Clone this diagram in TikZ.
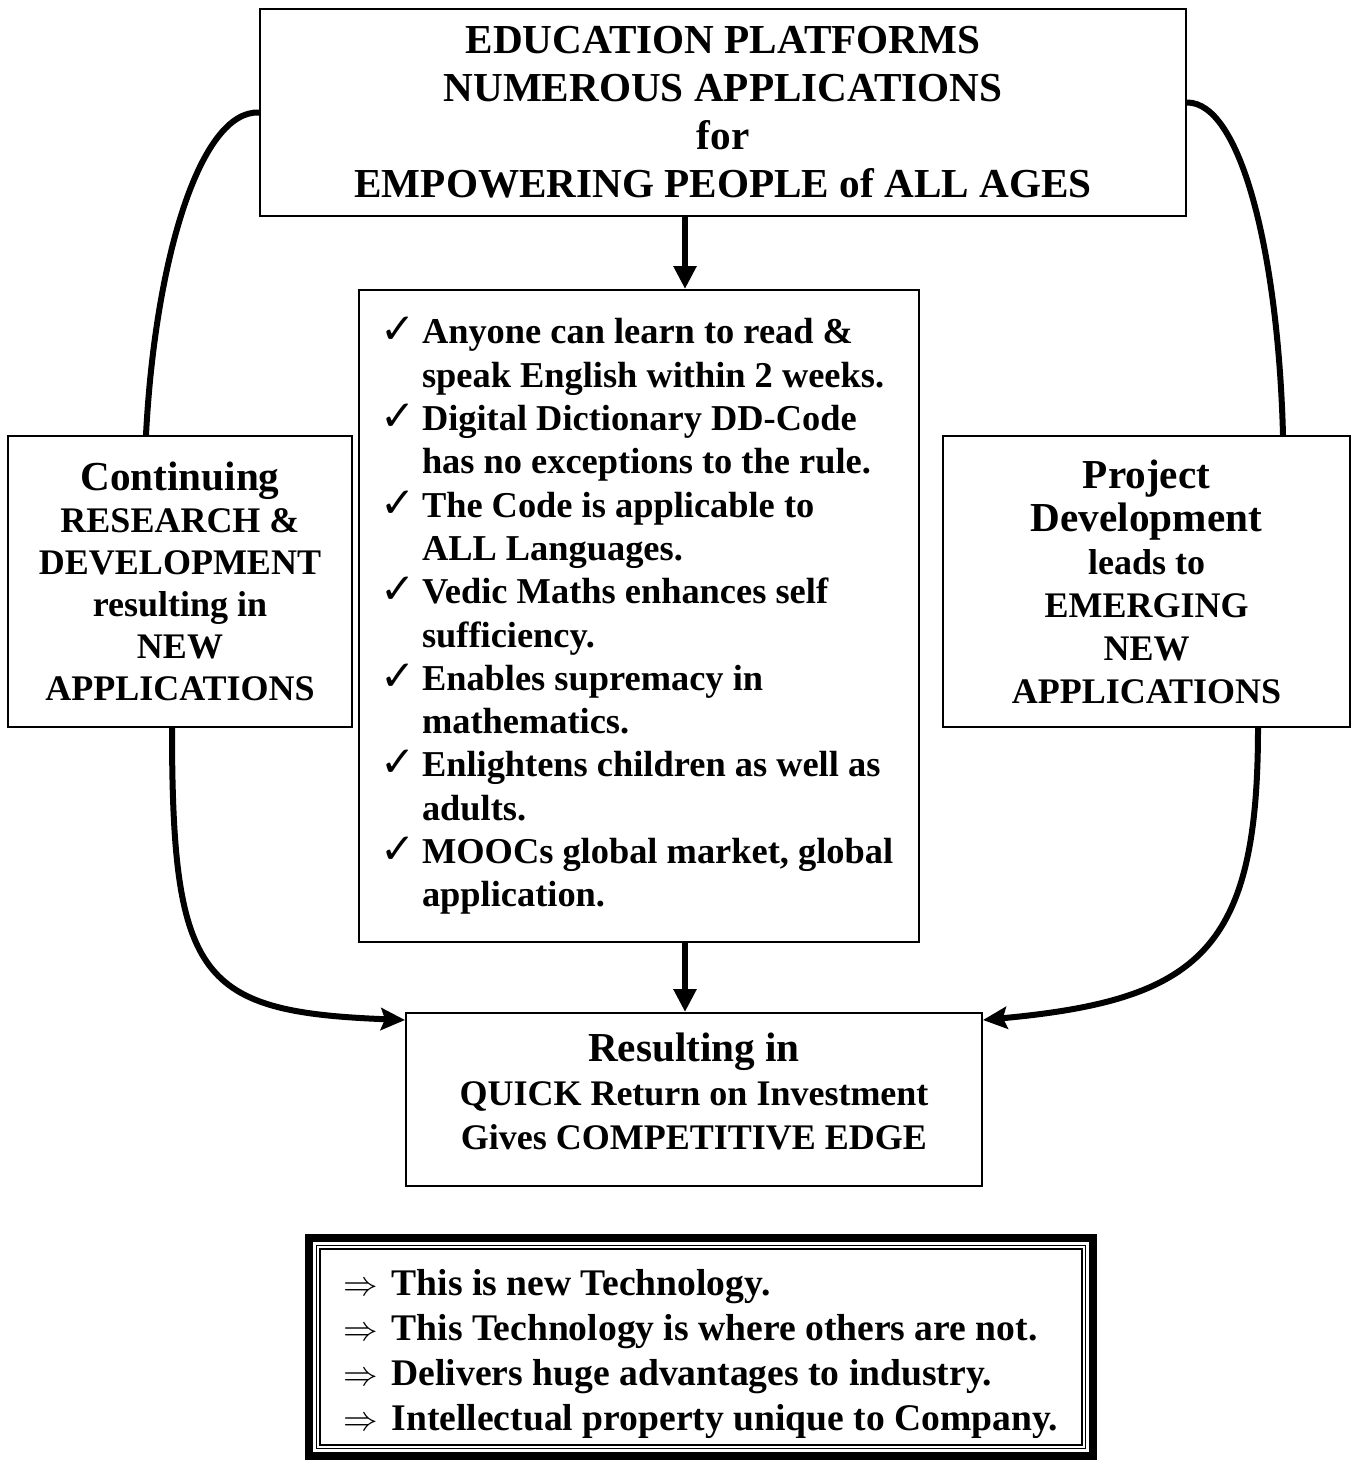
\documentclass[tikz,border=0pt]{standalone}
\usepackage{fontspec}
\setmainfont{Liberation Serif}
\newfontfamily\tickfont{DejaVu Sans}
\usetikzlibrary{arrows.meta}

\newcommand{\tickmark}{\makebox[21pt][l]{\tickfont\fontsize{21}{21}\selectfont ✓}}
\newcommand{\tickgap}{\hspace*{21pt}}
\newcommand{\impl}{\makebox[24pt][l]{$\Rightarrow$}}

\begin{document}
\begin{tikzpicture}[x=0.5pt, y=-0.5pt,
    box/.style={draw, line width=1pt, align=center, inner sep=0pt},
    sweep/.style={line width=3pt},
    feed/.style={line width=3pt, -{Stealth[length=12pt, width=11pt, inset=2pt]}},
    down/.style={line width=3pt, -{Triangle[length=11.5pt, width=11pt]}}]

\useasboundingbox (0,0) rectangle (1355,1461);

% Main statement
\node[box, minimum width=463pt, minimum height=103.5pt,
      font=\bfseries\fontsize{20.6}{24}\selectfont] (platform) at (723,112.5)
    {EDUCATION PLATFORMS\\NUMEROUS APPLICATIONS\\for\\EMPOWERING PEOPLE of ALL AGES};

% Benefit list ------------------------------
\node[box, minimum width=280pt, minimum height=326pt, text width=259pt, align=flush left,
      inner xsep=10.5pt, font=\bfseries\fontsize{18.2}{21.65}\selectfont] (benefits) at (639,616)
    {\tickmark Anyone can learn to read \&\\
     \tickgap speak English within 2 weeks.\\
     \tickmark Digital Dictionary DD-Code\\
     \tickgap has no exceptions to the rule.\\
     \tickmark The Code is applicable to\\
     \tickgap ALL Languages.\\
     \tickmark Vedic Maths enhances self\\
     \tickgap sufficiency.\\
     \tickmark Enables supremacy in\\
     \tickgap mathematics.\\
     \tickmark Enlightens children as well as\\
     \tickgap adults.\\
     \tickmark MOOCs global market, global\\
     \tickgap application.};

% Side boxes
\node[box, minimum width=172pt, minimum height=145.5pt,
      font=\bfseries\fontsize{18}{21}\selectfont] (research) at (180,581.5)
    {{\fontsize{20.6}{21}\selectfont Continuing}\\RESEARCH \&\\DEVELOPMENT\\resulting in\\NEW\\APPLICATIONS};

\node[box, minimum width=203.5pt, minimum height=145.5pt,
      font=\bfseries\fontsize{18}{21.5}\selectfont] (project) at (1146.5,581.5)
    {{\fontsize{20.6}{21.5}\selectfont Project}\\{\fontsize{20.6}{21.5}\selectfont Development}\\leads to\\EMERGING\\NEW\\APPLICATIONS};

% Outcome
\node[box, minimum width=288pt, minimum height=86.5pt,
      font=\bfseries\fontsize{18}{22}\selectfont] (returns) at (694,1099.5)
    {{\fontsize{20.6}{22}\selectfont Resulting in}\\QUICK Return on Investment\\Gives COMPETITIVE EDGE\rule[-8pt]{0pt}{0pt}};

% Framed summary ------------------------------
\node[draw, line width=4pt, minimum width=392pt, minimum height=109pt,
      inner sep=0pt, align=flush left, font=\bfseries\fontsize{18.8}{22.5}\selectfont] (usp) at (701,1347)
    {\rule{0pt}{20pt}\impl This is new Technology.\\
     \impl This Technology is where others are not.\\
     \impl Delivers huge advantages to industry.\\
     \impl Intellectual property unique to Company.};
\draw[line width=0.6pt] ([shift={(5.75pt,-5.75pt)}]usp.north west) rectangle ([shift={(-5.75pt,5.75pt)}]usp.south east);
\draw[line width=0.6pt] ([shift={(7.5pt,-7.5pt)}]usp.north west) rectangle ([shift={(-7.5pt,7.5pt)}]usp.south east);

% Straight arrows
\coordinate (spine) at (685,0);
\draw[down] (platform.south -| spine) -- (benefits.north -| spine);
\draw[down] (benefits.south -| spine) -- (returns.north -| spine);

% Cycle curves
\draw[sweep] ([xshift=-17pt]research.north) .. controls (155,260) and (200,110) .. (platform.west);
\draw[sweep] ([xshift=68.25pt]project.north) .. controls (1278,250) and (1240,102) .. ([yshift=5pt]platform.east);
\draw[feed] ([xshift=-4pt]research.south) .. controls (172,980) and (200,1012) .. ([yshift=-4pt]returns.north west);
\draw[feed] ([xshift=55.75pt]project.south) .. controls (1258,950) and (1200,1000) .. ([yshift=-4pt]returns.north east);

\end{tikzpicture}
\end{document}
